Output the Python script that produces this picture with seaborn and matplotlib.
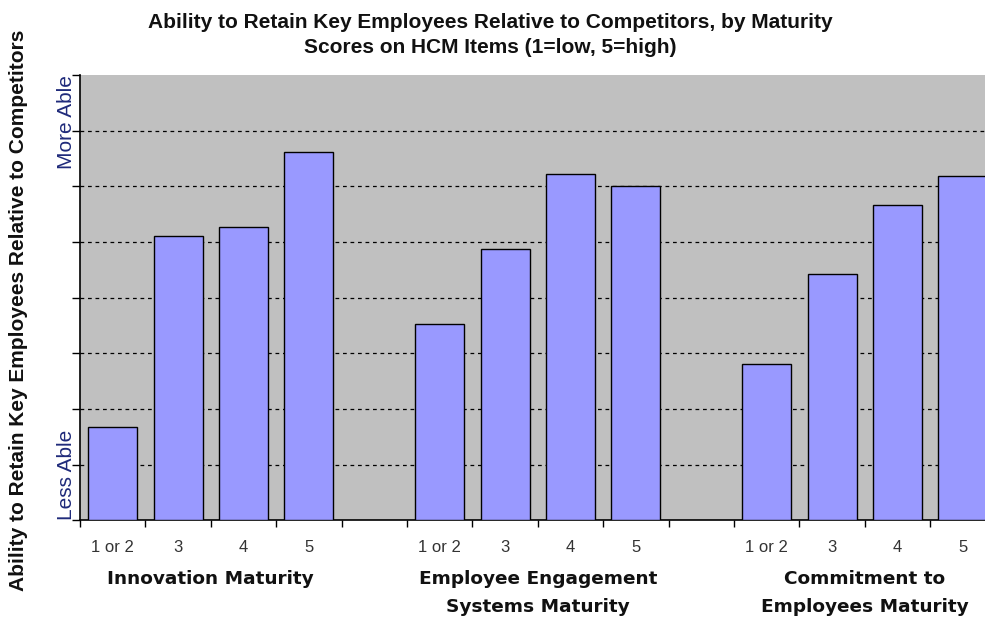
import numpy as np
import pandas as pd
import matplotlib
matplotlib.use("Agg")
import matplotlib.pyplot as plt
import matplotlib.transforms as mtransforms
import seaborn as sns

# -----------------------------
# data (scale 0..8 = Less Able .. More Able)
# -----------------------------
groups = ["Innovation Maturity",
          "Employee Engagement\nSystems Maturity",
          "Commitment to\nEmployees Maturity"]
levels = ["1 or 2", "3", "4", "5"]
innovation = [1.68, 5.10, 5.27, 6.62]
engagement = [3.53, 4.88, 6.23, 6.00]
commitment = [2.81, 4.43, 5.66, 6.18]
y_ticks = [0, 1, 2, 3, 4, 5, 6, 7, 8]

BAR = "#9999ff"
BG = "#c0c0c0"
NAVY = "#1f2a7a"

rows = []
for g, vals in zip(groups, [innovation, engagement, commitment]):
    for lv, v in zip(levels, vals):
        rows.append({"slot": f"{g}|{lv}", "level": lv, "value": v})
df = pd.DataFrame(rows)

# slot order with one empty slot between groups
order = []
for i, g in enumerate(groups):
    order += [f"{g}|{lv}" for lv in levels]
    if i < len(groups) - 1:
        order.append(f"gap{i}")

sns.set_theme(style="white")
plt.rcParams["font.family"] = ["Liberation Sans", "DejaVu Sans"]

fig = plt.figure(figsize=(9.85, 6.2), dpi=100)
ax_left = 80 / 985
ax = fig.add_axes([ax_left, 0.161, 1.0 - ax_left, 0.879 - 0.161])
ax.set_facecolor(BG)

sns.barplot(data=df, x="slot", y="value", order=order, color=BAR,
            saturation=1, width=0.75, edgecolor="black", linewidth=1.0,
            ax=ax, zorder=3)

# gridlines
for y in y_ticks[1:-1]:
    ax.axhline(y, color="black", linestyle=(0, (3, 3)), linewidth=0.9, zorder=1)

ax.set_yticks(y_ticks)
ax.set_yticklabels([])
ax.tick_params(axis="y", direction="out", length=6, width=1, color="black", left=True)

bounds = np.arange(-0.5, len(order) + 0.5, 1.0)
ax.set_xticks(bounds)
ax.set_xticklabels([])
ax.tick_params(axis="x", direction="out", length=5, width=1, color="black", bottom=True)

# right edge of the chart is cut off, as in the reference
slot_w = 65.4 / 985
ax.set_xlim(-0.5, -0.5 + (1.0 - ax_left) / slot_w)
ax.set_ylim(0, 8)

for s in ["top", "right"]:
    ax.spines[s].set_visible(False)
for s in ["left", "bottom"]:
    ax.spines[s].set_color("black")
    ax.spines[s].set_linewidth(1.2)
ax.set_xlabel("")
ax.set_ylabel("")

# level labels and group labels
tr = mtransforms.blended_transform_factory(ax.transData, fig.transFigure)
for i, g in enumerate(groups):
    start = i * 5
    for j, lv in enumerate(levels):
        ax.text(start + j, 1 - 547 / 620, lv, transform=tr, ha="center",
                va="center", fontsize=12, color="#333333", clip_on=False)
    ax.text(start + 1.5, 1 - 570 / 620, g, transform=tr, ha="center", va="top",
            fontsize=13.3, fontweight="bold", family=["DejaVu Sans"],
            linespacing=1.7, color="#111111", clip_on=False)

# y side labels
fig.text(66 / 985, 1 - 122 / 620, "More Able", rotation=90, ha="center", va="center",
         fontsize=15, color=NAVY)
fig.text(66 / 985, 1 - 475 / 620, "Less Able", rotation=90, ha="center", va="center",
         fontsize=15, color=NAVY)
fig.text(19 / 985, 1 - 310 / 620,
         "Ability to Retain Key Employees Relative to Competitors",
         rotation=90, ha="center", va="center", fontsize=15, fontweight="bold",
         color="#111111")

fig.text(490 / 985, 1 - 35 / 620,
         "Ability to Retain Key Employees Relative to Competitors, by Maturity\n"
         "Scores on HCM Items (1=low, 5=high)",
         ha="center", va="center", fontsize=15, fontweight="bold",
         linespacing=1.45, color="#111111")

fig.savefig("out.png", dpi=100)
